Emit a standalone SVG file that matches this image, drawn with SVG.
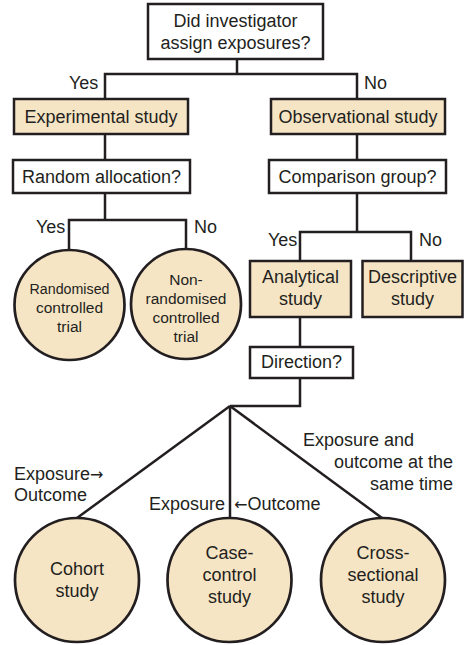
<svg xmlns="http://www.w3.org/2000/svg" width="465" height="645" viewBox="0 0 465 645">
<style>
.box{fill:#ffffff;stroke:#231f20;stroke-width:2.5}
.fbox{fill:#f6e5c5;stroke:#231f20;stroke-width:2.5}
.circ{fill:#f6e5c5;stroke:#231f20;stroke-width:2.7}
.con{fill:none;stroke:#231f20;stroke-width:2.5;stroke-linejoin:miter}
text{font-family:"Liberation Sans",Arial,Helvetica,sans-serif;font-size:18px;fill:#231f20}
.c{text-anchor:middle}
.s{font-size:15.5px}
.e{text-anchor:end}
.arr{font-family:"DejaVu Sans",sans-serif;font-size:16px}
</style>
<rect width="465" height="645" fill="#ffffff"/>
<g id="connectors">
<polyline class="con" points="237,59 237,74"/>
<polyline class="con" points="105,99 105,74 357,74 357,99"/>
<line class="con" x1="105" y1="134" x2="105" y2="160"/>
<line class="con" x1="357" y1="134" x2="357" y2="160"/>
<polyline class="con" points="105,193 105,220"/>
<polyline class="con" points="69,251 69,220 186,220 186,250"/>
<polyline class="con" points="357,193 357,232"/>
<polyline class="con" points="300,261 300,232 411,232 411,261"/>
<line class="con" x1="300" y1="317" x2="300" y2="347"/>
<polyline class="con" points="300,378 300,406 230,406"/>
<line class="con" x1="230" y1="406" x2="77" y2="518"/>
<line class="con" x1="230" y1="406" x2="230" y2="518"/>
<line class="con" x1="230" y1="406" x2="382" y2="518"/>
</g>
<g id="labels">
<text x="69" y="89">Yes</text>
<text x="364" y="89">No</text>
<text x="36" y="233">Yes</text>
<text x="194" y="233">No</text>
<text x="268" y="246">Yes</text>
<text x="419" y="246">No</text>
<text x="14" y="480">Exposure<tspan class="arr">→</tspan></text>
<text x="14" y="501">Outcome</text>
<text x="225" y="510" class="e">Exposure</text>
<text x="234" y="510"><tspan class="arr">←</tspan>Outcome</text>
<text x="303" y="446">Exposure and</text>
<text x="453" y="468" class="e">outcome at the</text>
<text x="453" y="490" class="e">same time</text>
</g>
<g id="q1">
<rect class="box" x="148" y="4" width="175" height="55"/>
<text x="235.5" y="27" class="c">Did investigator</text>
<text x="235.5" y="49" class="c">assign exposures?</text>
</g>
<g id="experimental">
<rect class="fbox" x="14" y="99" width="174" height="35"/>
<text x="101" y="122.5" class="c">Experimental study</text>
</g>
<g id="observational">
<rect class="fbox" x="271" y="99" width="174" height="35"/>
<text x="358" y="122.5" class="c">Observational study</text>
</g>
<g id="random">
<rect class="box" x="13" y="160" width="177" height="33"/>
<text x="101.5" y="182.5" class="c">Random allocation?</text>
</g>
<g id="comparison">
<rect class="box" x="269" y="160" width="177" height="33"/>
<text x="357.5" y="182.5" class="c">Comparison group?</text>
</g>
<g id="rct">
<circle class="circ" cx="69.5" cy="305" r="55"/>
<text x="69.5" y="294" class="c s" textLength="80" lengthAdjust="spacingAndGlyphs">Randomised</text>
<text x="69.5" y="313" class="c s">controlled</text>
<text x="69.5" y="332" class="c s">trial</text>
</g>
<g id="nrct">
<circle class="circ" cx="186" cy="304" r="55"/>
<text x="186" y="285" class="c s">Non-</text>
<text x="186" y="304" class="c s">randomised</text>
<text x="186" y="323" class="c s">controlled</text>
<text x="186" y="342" class="c s">trial</text>
</g>
<g id="analytical">
<rect class="fbox" x="250" y="261" width="101" height="56"/>
<text x="300.5" y="283" class="c">Analytical</text>
<text x="300.5" y="305" class="c">study</text>
</g>
<g id="descriptive">
<rect class="fbox" x="362.5" y="261" width="100" height="56"/>
<text x="412.5" y="283" class="c">Descriptive</text>
<text x="412.5" y="305" class="c">study</text>
</g>
<g id="direction">
<rect class="box" x="250" y="347" width="103" height="31"/>
<text x="301.5" y="368" class="c">Direction?</text>
</g>
<g id="cohort">
<circle class="circ" cx="77" cy="580" r="62"/>
<text x="77" y="575" class="c">Cohort</text>
<text x="77" y="597" class="c">study</text>
</g>
<g id="casecontrol">
<circle class="circ" cx="229.5" cy="580" r="62"/>
<text x="229.5" y="559" class="c">Case-</text>
<text x="229.5" y="581" class="c">control</text>
<text x="229.5" y="603" class="c">study</text>
</g>
<g id="crosssectional">
<circle class="circ" cx="383" cy="580" r="62"/>
<text x="383" y="559" class="c">Cross-</text>
<text x="383" y="581" class="c">sectional</text>
<text x="383" y="603" class="c">study</text>
</g>
</svg>
